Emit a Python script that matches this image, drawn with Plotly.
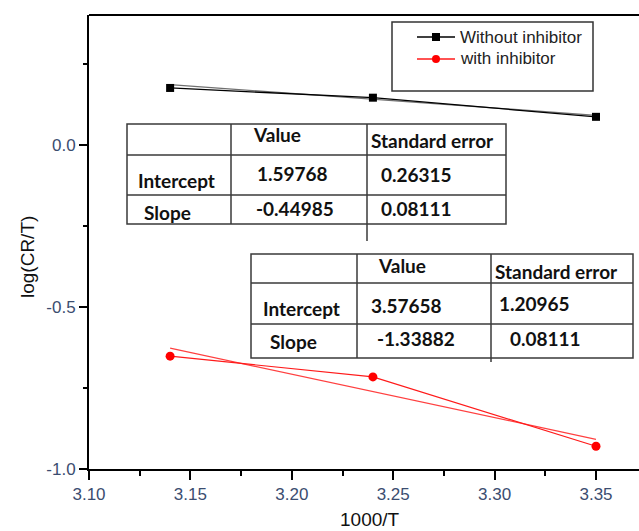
import plotly.graph_objects as go

# ---------------- data ----------------
x_vals = [3.14, 3.24, 3.35]
y_without = [0.175, 0.145, 0.086]
y_with = [-0.652, -0.716, -0.930]

fit_x = [3.14, 3.35]
fit_without = {"intercept": 1.59768, "slope": -0.44985, "se_int": "0.26315", "se_slope": "0.08111"}
fit_with = {"intercept": 3.57658, "slope": -1.33882, "se_int": "1.20965", "se_slope": "0.08111"}

legend_names = ["Without inhibitor", "with inhibitor"]
table_header = ["", "Value", "Standard error"]
table_rows = ["Intercept", "Slope"]

x_tickvals = [3.10, 3.15, 3.20, 3.25, 3.30, 3.35]
x_ticktext = ["3.10", "3.15", "3.20", "3.25", "3.30", "3.35"]
y_tickvals = [0.0, -0.5, -1.0]
y_ticktext = ["0.0", "-0.5", "-1.0"]

# ---------------- layout geometry (pixels) ----------------
W, H = 639, 531
PL, PR, PT, PB = 89, 639, 15, 469


def px(x):
    return (x - PL) / (PR - PL)


def py(y):
    return (PB - y) / (PB - PT)


fig = go.Figure()

fy_wo = [fit_without["intercept"] + fit_without["slope"] * x for x in fit_x]
fy_w = [fit_with["intercept"] + fit_with["slope"] * x for x in fit_x]

fig.add_trace(go.Scatter(x=fit_x, y=fy_wo, mode="lines",
                         line=dict(color="#707070", width=1.3), showlegend=False, hoverinfo="skip"))
fig.add_trace(go.Scatter(x=x_vals, y=y_without, mode="lines+markers", name=legend_names[0],
                         line=dict(color="black", width=1.3),
                         marker=dict(symbol="square", size=8, color="black"), showlegend=False))
fig.add_trace(go.Scatter(x=fit_x, y=fy_w, mode="lines",
                         line=dict(color="#ff4040", width=1.2), showlegend=False, hoverinfo="skip"))
fig.add_trace(go.Scatter(x=x_vals, y=y_with, mode="lines+markers", name=legend_names[1],
                         line=dict(color="#ff1a1a", width=1.2),
                         marker=dict(symbol="circle", size=9, color="#ff0000"), showlegend=False))

shapes = []
annotations = []

# top frame line
shapes.append(dict(type="line", xref="paper", yref="paper", x0=0, x1=1.01, y0=1, y1=1,
                   line=dict(color="black", width=2)))

# ---------------- legend (manual) ----------------
shapes.append(dict(type="rect", xref="paper", yref="paper", x0=px(392), x1=px(593), y0=py(22), y1=py(91),
                   line=dict(color="#333333", width=1.5), fillcolor="white", layer="above"))
leg_specs = [(37, "black", "square", 8), (59, "#ff1a1a", "circle", 8)]
for (yy, col, sym, sz), name in zip(leg_specs, legend_names):
    shapes.append(dict(type="line", xref="paper", yref="paper", x0=px(417), x1=px(455), y0=py(yy), y1=py(yy),
                       line=dict(color=col, width=1.5), layer="above"))
    h = sz / 2
    shapes.append(dict(type="rect" if sym == "square" else "circle", xref="paper", yref="paper",
                       x0=px(436 - h), x1=px(436 + h), y0=py(yy + h), y1=py(yy - h),
                       line=dict(color=col, width=0), fillcolor=col if sym == "square" else "#ff0000",
                       layer="above"))
    annotations.append(dict(xref="paper", yref="paper", x=px(458), y=py(yy), xanchor="left", yanchor="middle",
                            text=name, showarrow=False,
                            font=dict(family="Liberation Sans, Arial", size=17, color="#222222")))

# ---------------- tables (manual) ----------------
TFONT = dict(family="Lato", size=19, color="#111111")


def draw_table(box, cols, rows, col_ext, texts):
    x0, x1, y0, y1 = box
    shapes.append(dict(type="rect", xref="paper", yref="paper", x0=px(x0), x1=px(x1), y0=py(y0), y1=py(y1),
                       line=dict(color="#3a3a3a", width=1.5), fillcolor="white", layer="above"))
    for i, c in enumerate(cols):
        yb = col_ext if i == 1 else y1
        shapes.append(dict(type="line", xref="paper", yref="paper", x0=px(c), x1=px(c), y0=py(y0), y1=py(yb),
                           line=dict(color="#3a3a3a", width=1.5), layer="above"))
    for r in rows:
        shapes.append(dict(type="line", xref="paper", yref="paper", x0=px(x0), x1=px(x1), y0=py(r), y1=py(r),
                           line=dict(color="#3a3a3a", width=1.5), layer="above"))
    for (tx, ty, t, anchor) in texts:
        annotations.append(dict(xref="paper", yref="paper", x=px(tx), y=py(ty), xanchor=anchor, yanchor="middle",
                                text="<b>%s</b>" % t, showarrow=False, font=TFONT))


def fmt(v):
    return "%.5f" % v


draw_table((127, 506, 124, 224), [231, 367], [155, 195], 241, [
    (277, 134, table_header[1], "center"),
    (369, 140, table_header[2], "left"),
    (136, 180, table_rows[0], "left"),
    (255, 174, fmt(fit_without["intercept"]), "left"),
    (379, 175, fit_without["se_int"], "left"),
    (142, 212, table_rows[1], "left"),
    (254, 208, fmt(fit_without["slope"]), "left"),
    (379, 208, fit_without["se_slope"], "left"),
])

draw_table((251, 633, 254, 358), [357, 491], [283, 324], 362, [
    (402, 265, table_header[1], "center"),
    (493, 271, table_header[2], "left"),
    (261, 309, table_rows[0], "left"),
    (369, 305, fmt(fit_with["intercept"]), "left"),
    (497, 303, fit_with["se_int"], "left"),
    (268, 342, table_rows[1], "left"),
    (375, 338, fmt(fit_with["slope"]), "left"),
    (508, 338, fit_with["se_slope"], "left"),
])

# axis titles
annotations.append(dict(xref="paper", yref="paper", x=px(370), y=py(519), xanchor="center", yanchor="middle",
                        text="1000/T", showarrow=False,
                        font=dict(family="Liberation Sans, Arial", size=19, color="#111111")))
annotations.append(dict(xref="paper", yref="paper", x=px(27), y=py(257), xanchor="center", yanchor="middle",
                        text="log(CR/T)", textangle=-90, showarrow=False,
                        font=dict(family="Liberation Sans, Arial", size=19, color="#111111")))

TICKFONT = dict(family="Liberation Sans, Arial", size=17, color="#3b4d70")

fig.update_layout(
    width=W, height=H,
    margin=dict(l=PL, r=W - PR, t=PT, b=H - PB),
    paper_bgcolor="white", plot_bgcolor="white",
    showlegend=False,
    shapes=shapes, annotations=annotations,
    xaxis=dict(range=[3.10, 3.3712], showgrid=False, zeroline=False,
               showline=True, linecolor="black", linewidth=2,
               tickvals=x_tickvals, ticktext=x_ticktext,
               ticks="outside", ticklen=9, tickwidth=2, tickcolor="black",
               minor=dict(dtick=0.025, tick0=3.10, ticks="outside", ticklen=5, tickwidth=2, tickcolor="black"),
               tickfont=TICKFONT),
    yaxis=dict(range=[-1.0, 0.4], showgrid=False, zeroline=False,
               showline=True, linecolor="black", linewidth=2,
               tickvals=y_tickvals, ticktext=y_ticktext,
               ticks="outside", ticklen=8, tickwidth=2, tickcolor="black",
               minor=dict(dtick=0.25, tick0=0, ticks="outside", ticklen=4, tickwidth=2, tickcolor="black"),
               tickfont=TICKFONT),
)

fig.write_html("out.html")
